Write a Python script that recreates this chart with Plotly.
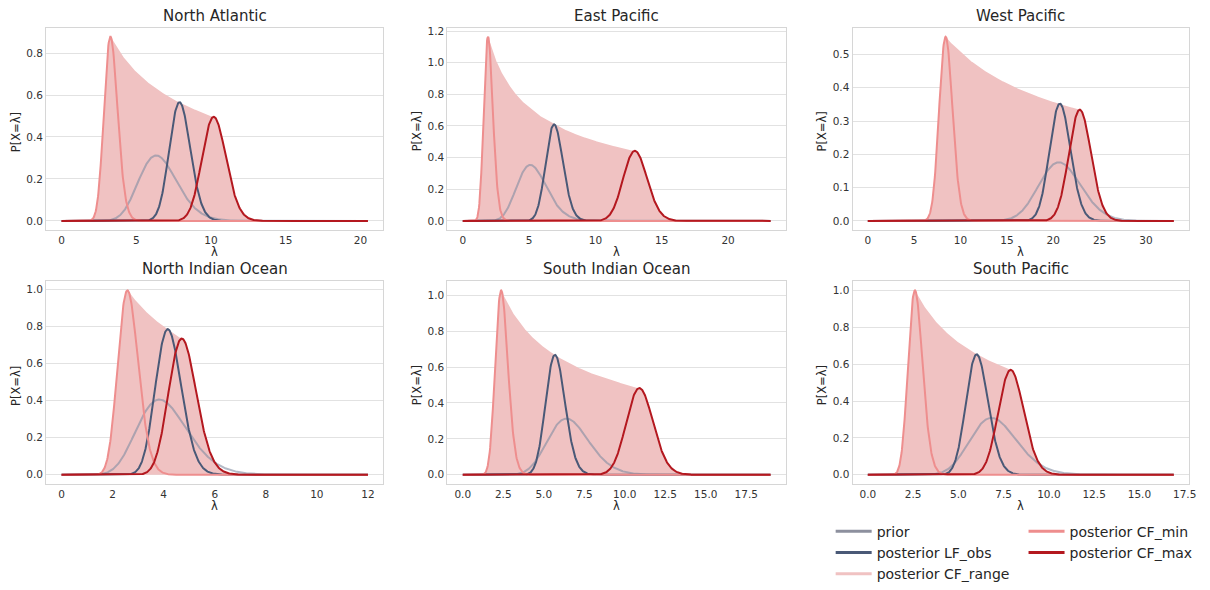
import math
import numpy as np
import plotly.graph_objects as go

# ---------------- data ----------------
regions = ["North Atlantic", "East Pacific", "West Pacific",
           "North Indian Ocean", "South Indian Ocean", "South Pacific"]
lambda_max = [20.5, 23.2, 33.0, 12.0, 19.0, 16.9]

prior_mode = [6.33, 5.09, 20.6, 3.83, 6.40, 6.83]
prior_peak = [0.312, 0.354, 0.176, 0.406, 0.313, 0.309]
lf_obs_mode = [7.89, 6.88, 20.71, 4.16, 5.69, 6.01]
lf_obs_peak = [0.566, 0.610, 0.352, 0.786, 0.668, 0.653]
cf_min_mode = [3.27, 1.90, 8.39, 2.58, 2.37, 2.60]
cf_min_peak = [0.878, 1.165, 0.553, 0.995, 1.027, 1.000]
cf_max_mode = [10.18, 12.97, 22.86, 4.71, 10.90, 7.89]
cf_max_peak = [0.496, 0.443, 0.334, 0.735, 0.483, 0.569]

x_tick_step = [5, 5, 5, 2, 2.5, 2.5]
x_tick_fmt = ["d", "d", "d", "d", ".1f", ".1f"]
y_tick_step = [0.2, 0.2, 0.1, 0.2, 0.2, 0.2]

legend_names = ["prior", "posterior LF_obs", "posterior CF_range",
                "posterior CF_min", "posterior CF_max"]

# ---------------- styling ----------------
W, H = 1210, 590
FONT = "DejaVu Sans"
C_PRIOR = "rgba(128,140,162,0.6)"
C_PRIOR_LEG = "#8d909e"
C_LF = "#4a5977"
C_MIN = "#ee8e8e"
C_MAX = "#b4181f"
C_RANGE = "#f0c2c2"
GRID = "#e2e2e2"
FRAME = "#d6d6d6"

# panel rectangles in pixels (left, right, top, bottom)
col_px = [(46.5, 385.5), (450.0, 790.5), (857.5, 1196.0)]
row_px = [(25.0, 231.0), (283.0, 489.3)]


def gamma_pdf(x, k, r):
    out = np.zeros_like(x)
    m = x > 0
    out[m] = np.exp(k * math.log(r) + (k - 1) * np.log(x[m]) - r * x[m] - math.lgamma(k))
    return out


def gamma_from_mode_peak(mode, peak):
    def logpeak(k):
        r = (k - 1) / mode
        return k * math.log(r) + (k - 1) * math.log(mode) - (k - 1) - math.lgamma(k)
    lo, hi = math.log(1.05), math.log(1e6)
    target = math.log(peak)
    for _ in range(100):
        mid = 0.5 * (lo + hi)
        if logpeak(math.exp(mid)) < target:
            lo = mid
        else:
            hi = mid
    k = math.exp(0.5 * (lo + hi))
    return k, (k - 1) / mode


def curve(x, mode, peak):
    k, r = gamma_from_mode_peak(mode, peak)
    return gamma_pdf(x, k, r)


fig = go.Figure()
annotations = []

for i, name in enumerate(regions):
    row, col = divmod(i, 3)
    n = i + 1
    xa = "x" if n == 1 else f"x{n}"
    ya = "y" if n == 1 else f"y{n}"
    x = np.linspace(0, lambda_max[i], 800)

    prior = curve(x, prior_mode[i], prior_peak[i])
    lf = curve(x, lf_obs_mode[i], lf_obs_peak[i])
    cmin = curve(x, cf_min_mode[i], cf_min_peak[i])
    cmax = curve(x, cf_max_mode[i], cf_max_peak[i])

    # envelope of the family of posteriors between CF_min and CF_max
    p = math.log(cf_max_peak[i] / cf_min_peak[i]) / math.log(cf_max_mode[i] / cf_min_mode[i])
    env = np.maximum(cmin, cmax)
    for lam in np.linspace(cf_min_mode[i], cf_max_mode[i], 240):
        h = cf_min_peak[i] * (lam / cf_min_mode[i]) ** p
        env = np.maximum(env, curve(x, lam, h))

    fig.add_trace(go.Scatter(x=x, y=env, mode="lines", fill="tozeroy",
                             fillcolor=C_RANGE, line=dict(width=0, color=C_RANGE),
                             showlegend=False, hoverinfo="skip", xaxis=xa, yaxis=ya))
    fig.add_trace(go.Scatter(x=x, y=prior, mode="lines", line=dict(color=C_PRIOR, width=2),
                             showlegend=False, xaxis=xa, yaxis=ya))
    fig.add_trace(go.Scatter(x=x, y=lf, mode="lines", line=dict(color=C_LF, width=2),
                             showlegend=False, xaxis=xa, yaxis=ya))
    fig.add_trace(go.Scatter(x=x, y=cmin, mode="lines", line=dict(color=C_MIN, width=2),
                             showlegend=False, xaxis=xa, yaxis=ya))
    fig.add_trace(go.Scatter(x=x, y=cmax, mode="lines", line=dict(color=C_MAX, width=2),
                             showlegend=False, xaxis=xa, yaxis=ya))

    ymax = max(float(np.max(env)), float(np.max(prior)), float(np.max(lf)))
    l, r = col_px[col]
    t, b = row_px[row]
    dom_x = [l / W, r / W]
    dom_y = [1 - b / H, 1 - t / H]
    axis_common = dict(showline=True, mirror=True, linecolor=FRAME, linewidth=1.2,
                       zeroline=False, ticks="", tickfont=dict(family=FONT, size=10.5, color="#333333"))
    fig.update_layout(**{
        ("xaxis" if n == 1 else f"xaxis{n}"): dict(
            domain=dom_x, anchor=ya, range=[-0.05 * lambda_max[i], 1.05 * lambda_max[i]],
            showgrid=False, tick0=0, dtick=x_tick_step[i], tickformat=x_tick_fmt[i],
            **axis_common),
        ("yaxis" if n == 1 else f"yaxis{n}"): dict(
            domain=dom_y, anchor=xa, range=[-0.05 * ymax, 1.05 * ymax],
            showgrid=True, gridcolor=GRID, gridwidth=1, tick0=0, dtick=y_tick_step[i],
            tickformat=".1f", **axis_common),
    })

    cx = (l + r) / 2
    annotations.append(dict(text=name, x=cx / W, y=1 - (t - 1) / H, xref="paper", yref="paper",
                            xanchor="center", yanchor="bottom", showarrow=False,
                            font=dict(family=FONT, size=15, color="#262626")))
    annotations.append(dict(text="λ", x=cx / W, y=1 - (b + 22) / H, xref="paper", yref="paper",
                            xanchor="center", yanchor="middle", showarrow=False,
                            font=dict(family=FONT, size=11.5, color="#262626")))
    annotations.append(dict(text="P[X=λ]", x=(l - 31) / W, y=1 - ((t + b) / 2 + 3) / H,
                            xref="paper", yref="paper", textangle=-90,
                            xanchor="center", yanchor="middle", showarrow=False,
                            font=dict(family=FONT, size=11.5, color="#262626")))

# legend entries
leg_colors = [C_PRIOR_LEG, C_LF, C_RANGE, C_MIN, C_MAX]
leg_group = ["legend", "legend", "legend", "legend2", "legend2"]
for nm, c, lg in zip(legend_names, leg_colors, leg_group):
    fig.add_trace(go.Scatter(x=[None], y=[None], mode="lines", name=nm,
                             line=dict(color=c, width=3), legend=lg, showlegend=True))

leg_common = dict(orientation="v", xanchor="left", yanchor="top", bgcolor="rgba(0,0,0,0)",
                  borderwidth=0, itemwidth=36, font=dict(family=FONT, size=14, color="#262626"),
                  tracegroupgap=0)
fig.update_layout(
    width=W, height=H,
    margin=dict(l=0, r=0, t=0, b=0),
    paper_bgcolor="white", plot_bgcolor="white",
    font=dict(family=FONT),
    annotations=annotations,
    legend=dict(x=835.5 / W, y=1 - 521.5 / H, **leg_common),
    legend2=dict(x=1029.5 / W, y=1 - 521.5 / H, **leg_common),
    showlegend=True,
)

fig.write_html("out.html")
